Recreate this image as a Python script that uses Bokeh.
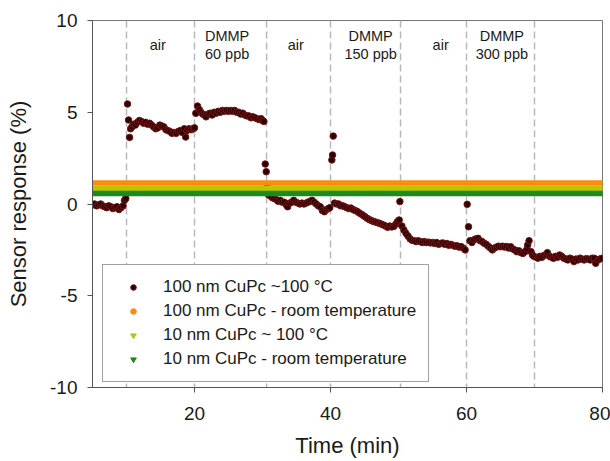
from bokeh.plotting import figure
from bokeh.models import Range1d, FixedTicker, Span, Legend, LegendItem
from bokeh.core.properties import value
from bokeh.embed import file_html
from bokeh.resources import INLINE

# ---- data ----
time_min = [
    5.0, 5.3, 5.6, 5.9, 6.2, 6.5, 6.8, 7.1, 7.4, 7.7, 8.0, 8.3, 8.6, 8.9, 9.2, 9.5, 9.7, 9.9,
    10.15, 10.3, 10.45, 10.6, 10.8, 11.0, 11.3, 11.6, 11.9, 12.2, 12.5, 12.8, 13.1, 13.4, 13.7, 14.0, 14.3, 14.6, 14.9, 15.2, 15.5, 15.8, 16.1, 16.4, 16.7, 17.0, 17.3, 17.6, 17.9, 18.2, 18.5, 18.7, 18.9, 19.2, 19.5, 19.8, 20.0,
    20.19, 20.44, 20.7, 20.95, 21.2, 21.45, 21.7, 22.0, 22.3, 22.6, 22.9, 23.2, 23.5, 23.8, 24.1, 24.4, 24.7, 25.0, 25.3, 25.6, 25.9, 26.2, 26.5, 26.8, 27.1, 27.4, 27.7, 28.0, 28.3, 28.6, 28.9, 29.2, 29.5, 29.8, 30.0, 30.2, 30.4, 30.55, 30.7,
    30.9, 31.1, 31.4, 31.7, 32.0, 32.3, 32.6, 32.9, 33.2, 33.5, 33.7, 34.0, 34.3, 34.6, 34.9, 35.2, 35.5, 35.8, 36.1, 36.4, 36.7, 37.0, 37.3, 37.6, 37.9, 38.2, 38.5, 38.8, 39.1, 39.4, 39.7, 39.9, 40.2, 40.3, 40.4,
    40.6, 40.9, 41.2, 41.5, 41.8, 42.1, 42.4, 42.7, 43.0, 43.3, 43.6, 43.9, 44.2, 44.5, 44.8, 45.1, 45.4, 45.7, 46.0, 46.3, 46.6, 46.9, 47.2, 47.5, 47.8, 48.1, 48.4, 48.7, 49.0, 49.3, 49.6, 49.85, 50.1, 50.2,
    50.5, 50.8, 51.1, 51.4, 51.7, 52.0, 52.3, 52.6, 52.9, 53.2, 53.5, 53.8, 54.1, 54.4, 54.7, 55.0, 55.3, 55.6, 55.9, 56.2, 56.5, 56.8, 57.1, 57.4, 57.7, 58.0, 58.3, 58.6, 58.9, 59.2, 59.5, 59.8, 60.1, 60.3,
    60.5, 60.8, 61.1, 61.4, 61.7, 62.0, 62.3, 62.6, 62.9, 63.2, 63.5, 63.8, 64.1, 64.4, 64.7, 65.0, 65.3, 65.6, 65.9, 66.2, 66.5, 66.8, 67.1, 67.4, 67.7, 68.0, 68.3, 68.6, 68.9, 69.0, 69.2, 69.5, 69.7, 69.9,
    70.2, 70.5, 70.8, 71.1, 71.4, 71.7, 71.9, 72.2, 72.5, 72.8, 73.1, 73.4, 73.7, 74.0, 74.3, 74.6, 74.9, 75.2, 75.5, 75.8, 76.1, 76.4, 76.7, 77.0, 77.3, 77.6, 77.9, 78.2, 78.5, 78.8, 79.0, 79.3, 79.6, 79.9,
]
response_pct = [
    -0.05, 0.0, -0.1, -0.05, 0.0, -0.1, -0.15, -0.2, -0.1, -0.15, -0.25, -0.2, -0.15, -0.3, -0.2, -0.1, 0.2, 0.3,
    5.45, 4.58, 3.63, 4.1, 4.2, 4.35, 4.3, 4.45, 4.55, 4.5, 4.4, 4.45, 4.35, 4.4, 4.3, 4.2, 4.1, 4.15, 4.3, 4.25, 4.2, 4.05, 4.0, 3.95, 3.85, 3.9, 3.85, 3.95, 4.0, 3.9, 4.1, 3.65, 4.0, 4.1, 4.05, 4.1, 4.15,
    4.94, 5.34, 5.15, 5.0, 4.9, 4.85, 4.75, 4.9, 4.95, 4.85, 5.0, 4.95, 5.05, 5.0, 5.1, 5.05, 5.1, 5.05, 5.1, 5.05, 5.1, 5.0, 5.0, 4.9, 4.95, 4.85, 4.8, 4.8, 4.7, 4.75, 4.7, 4.65, 4.6, 4.65, 4.55, 4.5, 2.18, 1.76, 1.05,
    0.5, 0.45, 0.35, 0.3, 0.25, 0.15, 0.2, 0.1, 0.1, -0.05, -0.15, 0.05, 0.1, 0.2, 0.1, 0.05, 0.0, 0.05, 0.0, 0.05, 0.1, 0.15, 0.2, 0.1, 0.0, -0.1, -0.15, -0.35, -0.42, -0.3, -0.25, -0.2, 2.4, 2.67, 3.7,
    0.05, 0.0, 0.0, -0.1, -0.1, -0.15, -0.2, -0.25, -0.22, -0.3, -0.35, -0.4, -0.48, -0.55, -0.62, -0.7, -0.78, -0.85, -0.9, -0.95, -0.98, -1.02, -1.05, -1.1, -1.15, -1.2, -1.27, -1.2, -1.25, -1.22, -1.1, -0.96, -0.87, 0.13,
    -1.2, -1.42, -1.6, -1.75, -1.9, -1.98, -2.0, -2.05, -2.0, -2.05, -2.1, -2.05, -2.1, -2.08, -2.12, -2.1, -2.15, -2.1, -2.2, -2.15, -2.12, -2.2, -2.15, -2.25, -2.2, -2.25, -2.3, -2.28, -2.35, -2.32, -2.4, -2.5, -0.02, -1.24,
    -2.0, -2.1, -1.95, -1.9, -1.87, -2.0, -2.05, -2.14, -2.2, -2.3, -2.4, -2.5, -2.4, -2.35, -2.3, -2.33, -2.3, -2.35, -2.32, -2.4, -2.33, -2.45, -2.5, -2.6, -2.55, -2.65, -2.7, -2.6, -2.45, -2.23, -2.0, -2.6, -2.78, -2.85,
    -2.9, -2.95, -2.85, -2.9, -2.8, -2.75, -2.65, -2.85, -2.9, -2.96, -2.85, -2.9, -2.78, -2.85, -2.95, -3.0, -3.05, -2.95, -3.0, -3.14, -3.0, -3.05, -2.95, -3.0, -3.05, -2.98, -3.0, -3.05, -2.95, -2.96, -3.23, -3.05, -3.0, -2.96,
]

# flat responses of the other three sensors over the whole run
flat_time = [5, 80]
level_100nm_rt = 1.15
level_10nm_hot = 0.85
level_10nm_rt = 0.57

switch_times = [10, 20, 30.6, 40, 50.3, 60, 70]
phase_labels = ["air", "DMMP\n60 ppb", "air", "DMMP\n150 ppb", "air", "DMMP\n300 ppb"]

series_names = [
    "100 nm CuPc ~100 \u00b0C",
    "100 nm CuPc - room temperature",
    "10 nm CuPc ~ 100 \u00b0C",
    "10 nm CuPc - room temperature",
]
y_ticks = [-10, -5, 0, 5, 10]
x_ticks = [20, 40, 60, 80]

FONT = "Liberation Sans"
C_DARK = "#2a0000"
C_ORANGE = "#ff8a10"
C_YELLOW = "#bcc400"
C_GREEN = "#1d8a1d"

p = figure(width=610, height=461, output_backend="svg", toolbar_location=None,
           x_range=Range1d(5, 80), y_range=Range1d(-10, 10),
           min_border_left=92, min_border_right=8, min_border_top=20, min_border_bottom=74)
p.grid.visible = False
p.background_fill_color = "white"
p.border_fill_color = "white"
p.outline_line_color = "#777777"
p.outline_line_width = 1

for t in switch_times:
    p.add_layout(Span(location=t, dimension="height", line_color="#b8b8b8",
                      line_dash="7 4", line_width=1.5, level="underlay"))

dark = p.scatter(time_min, response_pct, marker="circle", size=6.5,
                 fill_color=C_DARK, line_color="#7a1414", line_width=1)

# marker renderers of the flat series (hidden under their bands, shown in the legend)
mk_orange = p.scatter(flat_time, [level_100nm_rt] * 2, marker="circle", size=3, color=C_ORANGE)
mk_yellow = p.scatter(flat_time, [level_10nm_hot] * 2, marker="inverted_triangle", size=3, color=C_YELLOW)
mk_green = p.scatter(flat_time, [level_10nm_rt] * 2, marker="inverted_triangle", size=3, color=C_GREEN)

p.line(flat_time, [level_100nm_rt] * 2, line_color=C_ORANGE, line_width=5.5)
p.line(flat_time, [level_10nm_hot] * 2, line_color=C_YELLOW, line_width=5)
p.line(flat_time, [level_10nm_rt] * 2, line_color=C_GREEN, line_width=5.5)

label_x = [14.6, 24.8, 34.9, 45.9, 56.2, 65.2]
p.text(x=label_x, y=[8.65] * len(label_x), text=phase_labels,
       text_align="center", text_baseline="middle",
       text_font=value(FONT), text_font_size="14.5px", text_color="#1a1a1a",
       text_line_height=1.1)

legend = Legend(items=[
    LegendItem(label=series_names[0], renderers=[dark]),
    LegendItem(label=series_names[1], renderers=[mk_orange]),
    LegendItem(label=series_names[2], renderers=[mk_yellow]),
    LegendItem(label=series_names[3], renderers=[mk_green]),
], location=(10, 5), margin=0, padding=12, spacing=4,
    glyph_width=36, glyph_height=14, label_height=20, label_standoff=12,
    label_text_font=FONT, label_text_font_size="17px", label_text_color="#1a1a1a",
    border_line_color="#444444", border_line_width=1, background_fill_color="white",
    background_fill_alpha=1)
p.add_layout(legend)

for ax in (p.xaxis[0], p.yaxis[0]):
    ax.axis_line_color = "#555555"
    ax.major_tick_line_color = "#555555"
    ax.major_tick_out = 5
    ax.major_tick_in = 0
    ax.minor_tick_out = 0
    ax.minor_tick_in = 0
    ax.major_label_text_font = FONT
    ax.major_label_text_font_size = "19px"
    ax.major_label_text_color = "#1a1a1a"
    ax.axis_label_text_font = FONT
    ax.axis_label_text_font_size = "22px"
    ax.axis_label_text_font_style = "normal"
    ax.axis_label_text_color = "#1a1a1a"
    ax.axis_label_text_line_height = 1.0

p.xaxis.ticker = FixedTicker(ticks=x_ticks)
p.yaxis.ticker = FixedTicker(ticks=y_ticks)
p.yaxis.major_label_overrides = {t: str(t) for t in y_ticks}
p.xaxis.axis_label = "Time (min)"
p.yaxis.axis_label = "Sensor response (%)"
p.xaxis.major_label_standoff = 14
p.yaxis.major_label_standoff = 10
p.xaxis.axis_label_standoff = 10
p.yaxis.axis_label_standoff = 16

open("out.html", "w").write(file_html(p, INLINE))
